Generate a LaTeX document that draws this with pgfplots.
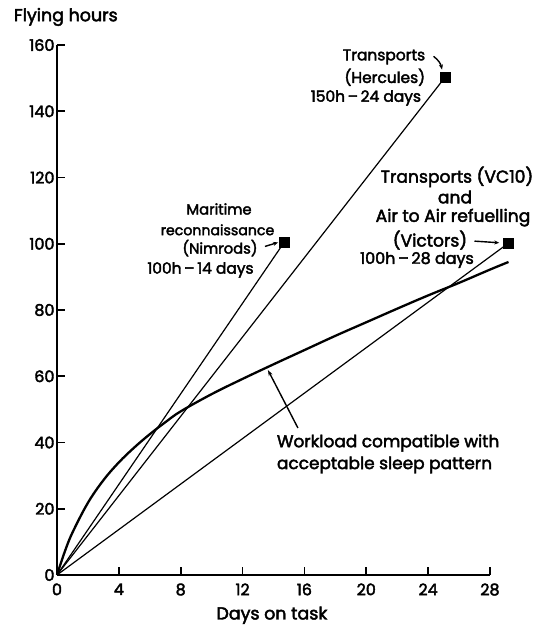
\documentclass[border=0pt]{standalone}
\usepackage{fontspec}
\setmainfont{Poppins}[FakeBold=2.5]
\usepackage{pgfplots}
\pgfplotsset{compat=1.18}
\usetikzlibrary{arrows.meta}
\newcommand\fs[1]{\fontsize{#1}{#1}\selectfont}
\begin{document}
\begin{tikzpicture}
\begin{axis}[
  scale only axis, width=433bp, height=530bp,
  xmin=0, xmax=28, ymin=0, ymax=160,
  axis lines=left,
  axis line style={-, line width=2.2bp},
  xtick={0,4,...,28}, ytick={0,20,...,160},
  tick align=inside, major tick length=8bp,
  tick style={line width=1.8bp, black},
  clip=false,
  /pgf/number format/assume math mode=true,
  ticklabel style={font=\fs{16}},
  xticklabel style={yshift=-5bp},
  yticklabel style={xshift=1bp},
  xlabel={Days on task},
  xlabel style={font=\fs{17.5}, inner sep=0pt, at={(axis description cs:0.4965,-0.0760)}, anchor=center},
  ylabel={Flying hours},
  ylabel style={font=\fs{17.5}, inner sep=0pt, rotate=-90, at={(axis description cs:-0.1000,1.053)}, anchor=west},
]
% invisible frame giving the picture the reference's size
\path[draw=none] (axis cs:-3.686,-15.4) rectangle (axis cs:31.24,173.6);

% Maritime reconnaissance (Nimrods)
\addplot[black, line width=1.2bp, mark=none] coordinates {(0,0) (14.7,100.5)};
\addplot[only marks, mark=square*, mark size=5bp, black] coordinates {(14.7,100.5)};
% Transports (Hercules)
\addplot[black, line width=1.2bp, mark=none] coordinates {(0,0) (25.1,150.3)};
\addplot[only marks, mark=square*, mark size=5bp, black] coordinates {(25.1,150.3)};
% Transports (VC10) and Air to Air refuelling (Victors)
\addplot[black, line width=1.2bp, mark=none] coordinates {(0,0) (29.2,100.2)};
\addplot[only marks, mark=square*, mark size=5bp, black] coordinates {(29.2,100.2)};
% Workload compatible with acceptable sleep pattern
\addplot[black, line width=2.3bp, smooth, tension=0.6, mark=none] coordinates {
 (0,0) (0.5,7) (1,12.8) (2,21.8) (3,28.6) (4,34) (5,38.5) (6,42.5) (7,46.1) (8,49.4)
 (10,54.6) (12,59.2) (14,63.6) (16,67.9) (18,72.2) (20,76.3) (22,80.4) (24,84.4)
 (26,88.2) (28,92.2) (29.2,94.5)};

% annotations
\node[font=\fs{15.5}] at (axis cs:21.15,156.4) {Transports};
\node[font=\fs{15.5}] at (axis cs:21.20,150.3) {(Hercules)};
\node[font=\fs{15.5}] at (axis cs:19.98,144.0) {150h\,--\,24 days};
\draw[-{Stealth[length=5bp,width=4bp]}, line width=1.4bp] (axis cs:24.35,156.6) to[bend left=20] (axis cs:24.9,152.6);

\node[font=\fs{14.8}] at (axis cs:10.48,110.5) {Maritime};
\node[font=\fs{14.2}] at (axis cs:10.38,104.2) {reconnaissance};
\node[font=\fs{14.8}] at (axis cs:10.54,98.7) {(Nimrods)};
\node[font=\fs{15.5}] at (axis cs:9.28,92.1) {100h\,--\,14 days};
\draw[-{Stealth[length=5bp,width=4bp]}, line width=1.4bp] (axis cs:13.45,99.2) -- (axis cs:14.3,100.4);

\node[font=\fs{17.2}] at (axis cs:25.87,120.2) {Transports (VC10)};
\node[font=\fs{17.2}] at (axis cs:25.74,114.1) {and};
\node[font=\fs{17.2}] at (axis cs:25.61,107.9) {Air to Air refuelling};
\node[font=\fs{17.2}] at (axis cs:24.12,101.1) {(Victors)};
\node[font=\fs{16}] at (axis cs:23.28,95.1) {100h\,--\,28 days};
\draw[-{Stealth[length=5bp,width=4bp]}, line width=1.4bp] (axis cs:27.0,100.8) -- (axis cs:28.6,100.3);

\node[font=\fs{17}, anchor=west] at (axis cs:14.0,39.85) {Workload compatible with};
\node[font=\fs{17}, anchor=west] at (axis cs:14.0,33.2) {acceptable sleep pattern};
\draw[-{Stealth[length=6bp,width=4bp]}, line width=1.4bp] (axis cs:15.58,44.4) -- (axis cs:13.64,61.9);
\end{axis}
\end{tikzpicture}
\end{document}
